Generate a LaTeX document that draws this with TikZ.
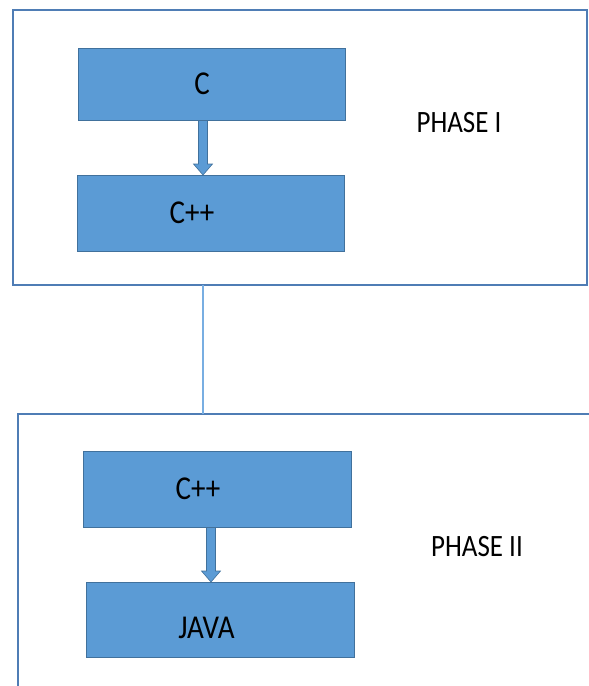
\documentclass[tikz,border=0pt]{standalone}
\usepackage{fontspec}
\setmainfont{Carlito}
\usetikzlibrary{arrows.meta}
\definecolor{boxfill}{HTML}{5B9BD5}
\definecolor{boxline}{HTML}{41719C}
\definecolor{phaseline}{HTML}{4F7DB5}
\definecolor{linkline}{HTML}{78AEE2}
\begin{document}
\begin{tikzpicture}[x=1pt,y=-1pt,
  langbox/.style={draw=boxline,fill=boxfill,line width=1.2pt},
  phasebox/.style={draw=phaseline,line width=1.6pt},
  boxtext/.style={font=\fontsize{29}{32}\selectfont,yscale=1.15,transform shape,inner sep=0pt},
  phasetext/.style={font=\fontsize{27}{30}\selectfont,yscale=1.15,transform shape,inner sep=0pt},
  fatarrow/.style={draw=boxline,fill=boxfill,line width=0.8pt}]
\useasboundingbox (0,0) rectangle (589,686);
% phase I
\draw[phasebox] (13,10) rectangle (587,285);
\coordinate (p1b) at (203,285);
% phase II (open to right/bottom)
\draw[phasebox] (18,690) -- (18,414) -- (592,414);
\coordinate (p2t) at (203,414);
\draw[linkline,line width=1.4pt] (p1b) -- (p2t);
% boxes
\node[langbox,minimum width=267pt,minimum height=72pt,anchor=north west] (c) at (78,48) {};
\node[langbox,minimum width=267pt,minimum height=76pt,anchor=north west] (cpp) at (77,175) {};
\node[langbox,minimum width=268pt,minimum height=76pt,anchor=north west] (cpp2) at (83,451) {};
\node[langbox,minimum width=268pt,minimum height=75pt,anchor=north west] (java) at (85.5,582) {};
% texts
\node[boxtext] (tc) at (202,84) {C};
\node[boxtext] (tcpp) at (192,213) {C++};
\node[boxtext] (tcpp2) at (198,489) {C++};
\node[boxtext] (tjava) at (206.5,628) {JAVA};
\node[phasetext] (ph1) at (459,123) {PHASE I};
\node[phasetext] (ph2) at (477,547) {PHASE II};
% block arrows
\fill[boxfill,draw=boxline,line width=0.6pt] (198.5,120.5) -- (207.5,120.5) -- (207.5,164) -- (212.5,164) -- (203,175) -- (193.5,164) -- (198.5,164) -- cycle;
\fill[boxfill,draw=boxline,line width=0.6pt] (206.5,527.5) -- (215.5,527.5) -- (215.5,571) -- (220.5,571) -- (211,582) -- (201.5,571) -- (206.5,571) -- cycle;
\end{tikzpicture}
\end{document}
